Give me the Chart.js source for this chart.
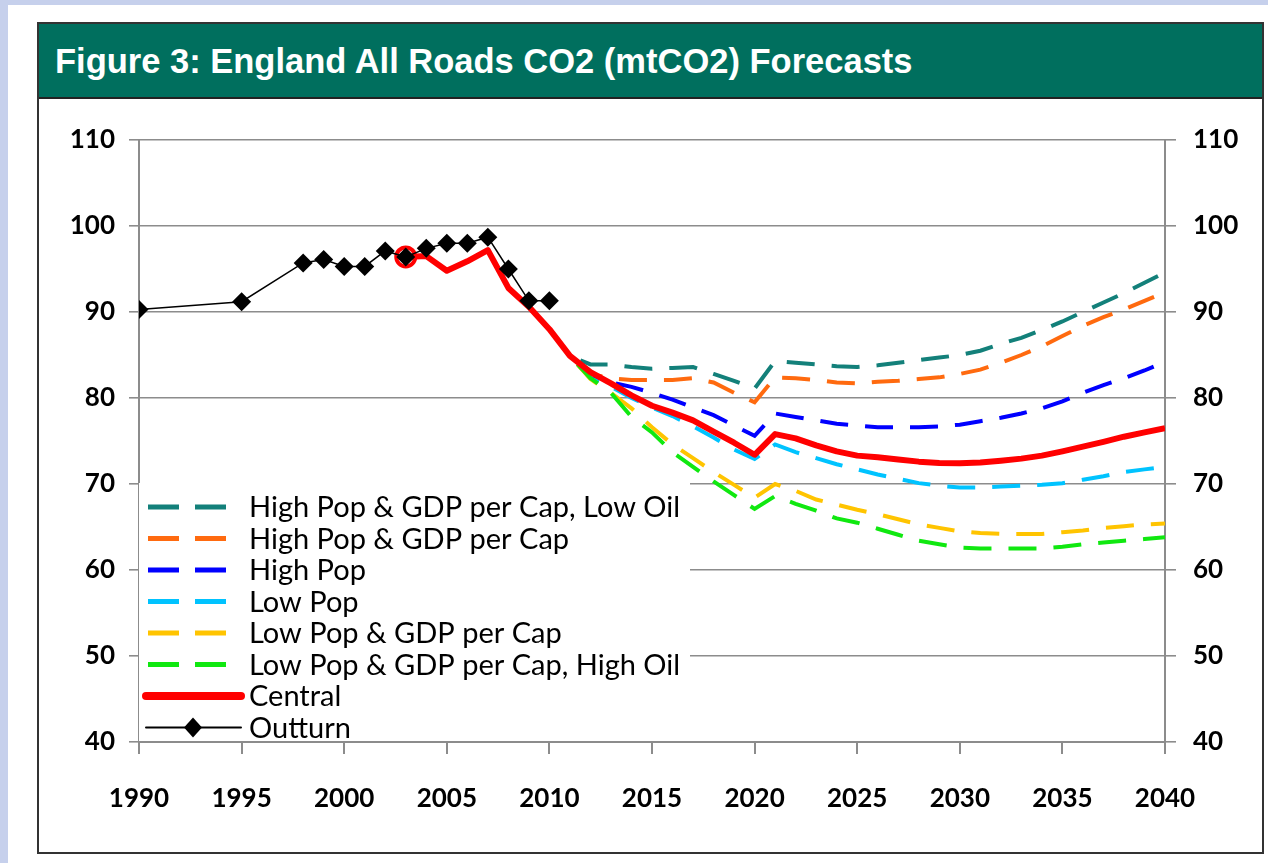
<!DOCTYPE html>
<html>
<head>
<meta charset="utf-8">
<script src="https://cdn.jsdelivr.net/npm/chart.js@4.4.1/dist/chart.umd.min.js"></script>
<style>
    body { margin: 0; background: #c6d0ec; width: 1268px; height: 863px; overflow: hidden; position: relative; }
    #panel { position: absolute; left: 8px; top: 5px; width: 1260px; height: 858px; background: #fff; }
    #frame { position: absolute; left: 37px; top: 22px; width: 1227px; height: 832px; box-sizing: border-box; border: 2px solid #333; }
    #title { height: 73px; background: #006f5e; border-bottom: 2px solid #222; color: #fff;
             font: bold 34.5px "Liberation Sans", Arial, sans-serif; line-height: 75px; padding-left: 16px; }
    #myChart { position: absolute; left: 39px; top: 99px; }
</style>
</head>
<body>
<div id="panel"></div>
<div id="frame"><div id="title">Figure 3: England All Roads CO2 (mtCO2) Forecasts</div></div>
<canvas id="myChart" width="1223" height="753"></canvas>
<script>
// outturn (actual) emissions
const outturnYears = [1990, 1995, 1998, 1999, 2000, 2001, 2002, 2003, 2004, 2005, 2006, 2007, 2008, 2009, 2010]
const outturnValues = [90.3, 91.2, 95.7, 96.1, 95.3, 95.3, 97.1, 96.4, 97.4, 98.0, 98.0, 98.7, 95.0, 91.3, 91.3]

// central forecast 2003 - 2040
const centralYears = []
for (let y = 2003; y <= 2040; y++) centralYears.push(y)
const centralValues = [96.4, 96.5, 94.8, 95.9, 97.2, 92.8, 90.6, 88.0,
    84.9, 83.0, 81.7, 80.3, 79.1, 78.3, 77.4, 76.1, 74.8, 73.4,
    75.8, 75.3, 74.5, 73.8, 73.3, 73.1, 72.85, 72.6, 72.45, 72.4,
    72.5, 72.7, 72.95, 73.3, 73.8, 74.35, 74.9, 75.5, 76.0, 76.5]

// scenario forecasts 2010 - 2040
const scenarioYears = []
for (let y = 2010; y <= 2040; y++) scenarioYears.push(y)
const highPopGdpLowOil = [88.0, 84.9, 83.9, 83.9, 83.6, 83.4, 83.5, 83.6, 82.8, 82.0, 81.1,
    84.3, 84.1, 83.9, 83.7, 83.6, 83.8, 84.1, 84.4, 84.7, 85.0,
    85.5, 86.3, 87.0, 87.9, 88.9, 90.0, 91.1, 92.2, 93.4, 94.6]
const highPopGdp = [88.0, 84.9, 82.8, 82.3, 82.1, 82.1, 82.1, 82.3, 81.8, 80.6, 79.5,
    82.4, 82.3, 82.1, 81.8, 81.7, 81.9, 82.0, 82.2, 82.4, 82.8,
    83.3, 84.1, 85.0, 86.0, 87.2, 88.4, 89.4, 90.3, 91.3, 92.3]
const highPop = [88.0, 84.9, 82.3, 81.8, 81.3, 80.6, 79.8, 78.9, 78.0, 76.8, 75.6,
    78.2, 77.8, 77.4, 77.0, 76.8, 76.6, 76.6, 76.6, 76.7, 76.9,
    77.3, 77.7, 78.2, 78.8, 79.6, 80.6, 81.5, 82.3, 83.2, 84.2]
const lowPop = [88.0, 84.9, 82.3, 81.3, 80.0, 78.9, 77.9, 76.7, 75.4, 74.0, 72.9,
    74.6, 73.7, 73.0, 72.3, 71.7, 71.1, 70.6, 70.1, 69.8, 69.6,
    69.6, 69.7, 69.8, 69.9, 70.1, 70.5, 70.9, 71.4, 71.7, 72.0]
const lowPopGdp = [88.0, 84.9, 82.2, 80.6, 78.8, 76.6, 74.6, 73.0, 71.4, 69.9, 68.4,
    70.0, 69.2, 68.2, 67.6, 67.0, 66.5, 65.9, 65.3, 64.9, 64.5,
    64.3, 64.2, 64.2, 64.2, 64.4, 64.6, 64.9, 65.1, 65.3, 65.4]
const lowPopGdpHighOil = [88.0, 84.9, 82.3, 80.6, 77.8, 76.0, 73.7, 72.0, 70.3, 68.7, 67.1,
    68.6, 67.7, 66.9, 66.0, 65.5, 64.8, 64.1, 63.4, 63.0, 62.6,
    62.5, 62.5, 62.5, 62.5, 62.7, 63.0, 63.2, 63.4, 63.6, 63.8]

const yTicks = [40, 50, 60, 70, 80, 90, 100, 110]

const pts = (years, values) => years.map((y, i) => ({ x: y, y: values[i] }))

const dashed = (label, color, values, order) => ({
    label: label,
    data: pts(scenarioYears, values),
    borderColor: color,
    borderWidth: 4,
    borderDash: [28, 17],
    pointRadius: 0,
    order: order,
})

// legend drawn inside the plot, on a white box
const boxLegend = {
    id: 'boxLegend',
    afterDraw(chart) {
        const ctx = chart.ctx
        ctx.save()
        ctx.fillStyle = '#fff'
        ctx.fillRect(100, 384, 551, 258)
        ctx.font = '29px Lato'
        ctx.textBaseline = 'middle'
        ctx.fillStyle = '#000'
        chart.data.datasets.forEach((ds, i) => {
            const y = 408 + i * 31.5
            ctx.strokeStyle = ds.borderColor
            ctx.lineWidth = ds.borderDash ? 5 : (ds.borderWidth > 3 ? 8 : 2)
            ctx.lineCap = ds.borderDash ? 'butt' : 'round'
            ctx.setLineDash(ds.borderDash ? [31, 16] : [])
            ctx.beginPath()
            ctx.moveTo(ds.borderDash ? 109 : 107, y)
            ctx.lineTo(ds.borderDash ? 187 : 202, y)
            ctx.stroke()
            if (ds.pointStyle === 'rectRot') {
                ctx.beginPath()
                ctx.moveTo(154, y - 10)
                ctx.lineTo(163, y)
                ctx.lineTo(154, y + 10)
                ctx.lineTo(145, y)
                ctx.closePath()
                ctx.fill()
            }
            ctx.fillText(ds.label, 210, y + 1)
        })
        ctx.restore()
    }
}

const ctx = document.getElementById('myChart').getContext('2d')

const config = {
    type: 'line',
    data: {
        datasets: [
            dashed('High Pop & GDP per Cap, Low Oil', '#13807a', highPopGdpLowOil, 7),
            dashed('High Pop & GDP per Cap', '#ff6a0f', highPopGdp, 6),
            dashed('High Pop', '#0000ff', highPop, 5),
            dashed('Low Pop', '#00c3ff', lowPop, 4),
            dashed('Low Pop & GDP per Cap', '#ffc400', lowPopGdp, 3),
            dashed('Low Pop & GDP per Cap, High Oil', '#10e810', lowPopGdpHighOil, 2),
            {
                label: 'Central',
                data: pts(centralYears, centralValues),
                borderColor: '#ff0000',
                borderWidth: 6,
                borderJoinStyle: 'round',
                pointRadius: (c) => c.dataIndex === 0 ? 9.5 : 0,
                pointBorderWidth: 4,
                pointBorderColor: '#ff0000',
                pointBackgroundColor: 'rgba(0,0,0,0)',
                order: 1,
            },
            {
                label: 'Outturn',
                data: pts(outturnYears, outturnValues),
                borderColor: '#000',
                borderWidth: 1.5,
                pointStyle: 'rectRot',
                pointRadius: 9.5,
                pointBorderWidth: 0,
                pointBackgroundColor: '#000',
                order: 0,
            },
        ]
    },
    options: {
        responsive: false,
        animation: false,
        layout: { padding: { top: 41, left: 0, right: 0, bottom: 0 } },
        plugins: {
            legend: { display: false },
            tooltip: { enabled: false },
        },
        scales: {
            x: {
                type: 'linear',
                min: 1990,
                max: 2040,
                afterFit: (s) => { s.height = 110 },
                ticks: {
                    stepSize: 5,
                    padding: 29,
                    color: '#000',
                    font: { family: 'Lato', size: 26, weight: 'bold' },
                    callback: (v) => String(v),
                    maxRotation: 0,
                },
                grid: { drawOnChartArea: false, tickLength: 12, color: '#8c8c8c', lineWidth: 2 },
                border: { color: '#8c8c8c', width: 2 },
            },
            y: {
                position: 'left',
                min: 40,
                max: 110,
                afterFit: (s) => { s.width = 100 },
                afterBuildTicks: (s) => { s.ticks = yTicks.map(v => ({ value: v })) },
                ticks: {
                    padding: 14,
                    color: '#000',
                    font: { family: 'Lato', size: 26, weight: 'bold' },
                },
                grid: { tickLength: 10, color: '#8c8c8c', lineWidth: 1.6 },
                border: { color: '#8c8c8c', width: 2 },
            },
            y2: {
                position: 'right',
                min: 40,
                max: 110,
                afterFit: (s) => { s.width = 97 },
                afterBuildTicks: (s) => { s.ticks = yTicks.map(v => ({ value: v })) },
                ticks: {
                    padding: 17,
                    color: '#000',
                    font: { family: 'Lato', size: 26, weight: 'bold' },
                },
                grid: { drawOnChartArea: false, tickLength: 11, color: '#8c8c8c', lineWidth: 1.6 },
                border: { color: '#8c8c8c', width: 2 },
            },
        },
    },
    plugins: [boxLegend],
}

const myChart = new Chart(ctx, config)
</script>
</body>
</html>
